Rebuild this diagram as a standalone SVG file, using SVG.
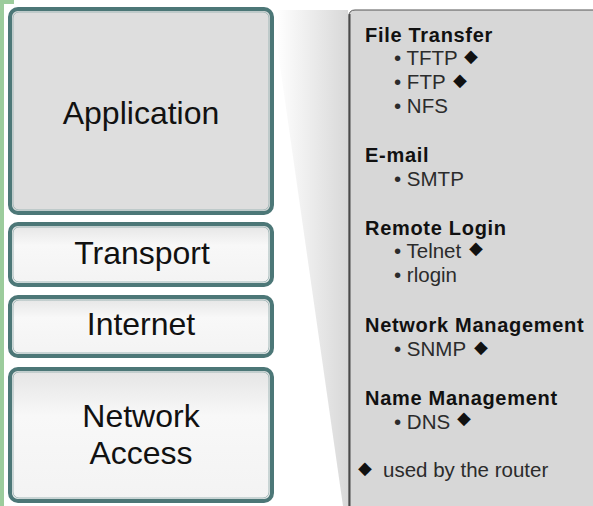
<svg xmlns="http://www.w3.org/2000/svg" width="593" height="506" viewBox="0 0 593 506">
<defs>
<linearGradient id="wedge" gradientUnits="userSpaceOnUse" x1="276" y1="0" x2="348" y2="0">
<stop offset="0" stop-color="#ffffff"/>
<stop offset="1" stop-color="#d8d8d8"/>
</linearGradient>
<linearGradient id="light" x1="0" y1="0" x2="0" y2="1">
<stop offset="0" stop-color="#e4e4e4"/>
<stop offset="0.35" stop-color="#f8f8f8"/>
<stop offset="1" stop-color="#f3f3f3"/>
</linearGradient>
</defs>
<style>
.box{stroke:#4c7777;stroke-width:4}
.inner{fill:none;stroke:#9fb6b6;stroke-width:1}
.lbl{font-family:"Liberation Sans",Arial,sans-serif;font-size:32px;fill:#111;text-anchor:middle}
.hd{font-family:"Liberation Sans",Arial,sans-serif;font-size:20px;font-weight:bold;fill:#111;letter-spacing:0.7px}
.it{font-family:"Liberation Sans",Arial,sans-serif;font-size:20.5px;fill:#2b2b2b}
.dm{font-family:"DejaVu Sans",sans-serif;font-size:18px;fill:#111}
</style>
<rect x="0" y="0" width="593" height="506" fill="#ffffff"/>
<path d="M0 0 H14 V4 H4 V506 H0 Z" fill="#9ccc9c"/>
<polygon points="272,10 348,10 348,506 343,506" fill="url(#wedge)"/>
<g id="panel">
<path d="M349 506 V16 Q349 10 355 10 H593 V506 Z" fill="#d7d7d7"/>
<path d="M349 506 V16 Q349 10 355 10 H593" fill="none" stroke="#555" stroke-width="1"/>
<line x1="349.5" y1="14" x2="349.5" y2="506" stroke="#4a4a4a" stroke-width="2"/>
</g>
<g id="application">
<rect class="box" x="10" y="9" width="262" height="204" rx="8" fill="#dedede"/>
<rect class="inner" x="13" y="12" width="256" height="198" rx="6"/>
<text class="lbl" x="141" y="124">Application</text>
</g>
<g id="transport">
<rect class="box" x="10" y="224" width="262" height="61" rx="8" fill="url(#light)"/>
<rect class="inner" x="13" y="227" width="256" height="55" rx="6"/>
<text class="lbl" x="142" y="264">Transport</text>
</g>
<g id="internet">
<rect class="box" x="10" y="297" width="262" height="59" rx="8" fill="url(#light)"/>
<rect class="inner" x="13" y="300" width="256" height="53" rx="6"/>
<text class="lbl" x="141" y="335">Internet</text>
</g>
<g id="network-access">
<rect class="box" x="10" y="369" width="262" height="132" rx="8" fill="url(#light)"/>
<rect class="inner" x="13" y="372" width="256" height="126" rx="6"/>
<text class="lbl" x="141" y="427">Network</text>
<text class="lbl" x="141" y="464">Access</text>
</g>
<g id="protocols">
<text class="hd" x="365" y="42">File Transfer</text>
<text class="it" x="394" y="65">• TFTP</text>
<text class="dm" x="464" y="62">◆</text>
<text class="it" x="394" y="89">• FTP</text>
<text class="dm" x="453" y="86">◆</text>
<text class="it" x="394" y="113">• NFS</text>
<text class="hd" x="365" y="162">E-mail</text>
<text class="it" x="394" y="186">• SMTP</text>
<text class="hd" x="365" y="235">Remote Login</text>
<text class="it" x="394" y="258">• Telnet</text>
<text class="dm" x="469" y="254">◆</text>
<text class="it" x="394" y="282">• rlogin</text>
<text class="hd" x="365" y="332">Network Management</text>
<text class="it" x="394" y="356">• SNMP</text>
<text class="dm" x="474" y="353">◆</text>
<text class="hd" x="365" y="405">Name Management</text>
<text class="it" x="394" y="429">• DNS</text>
<text class="dm" x="457" y="424">◆</text>
<text class="dm" x="358" y="474">◆</text>
<text class="it" x="383" y="477">used by the router</text>
</g>
</svg>
